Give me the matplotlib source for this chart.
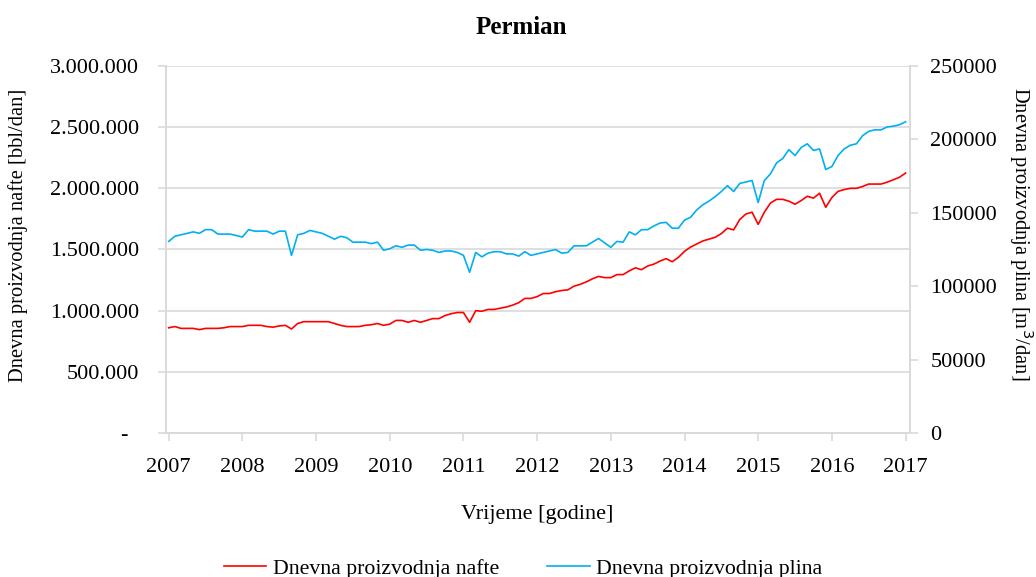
import numpy as np
import matplotlib.pyplot as plt
from matplotlib.ticker import FuncFormatter
from matplotlib.lines import Line2D

plt.rcParams['font.family'] = ['Liberation Serif', 'DejaVu Serif']

# mjesecni podaci, sijecanj 2007 - sijecanj 2017
nafta = [
    860, 870, 855, 855, 855, 845, 855, 855, 855, 860, 870, 870,
    870, 880, 880, 880, 870, 865, 875, 880, 850, 895, 910, 910,
    910, 910, 910, 895, 880, 870, 870, 870, 880, 885, 895, 880,
    890, 920, 920, 905, 920, 905, 920, 935, 935, 960, 975, 985,
    985, 905, 1000, 995, 1010, 1010, 1020, 1030, 1045, 1065, 1100, 1100,
    1115, 1140, 1140, 1155, 1165, 1170, 1200, 1215, 1235, 1260, 1280, 1270,
    1270, 1295, 1295, 1325, 1350, 1335, 1365, 1380, 1405, 1425, 1400, 1435,
    1485, 1520, 1545, 1570, 1585, 1600, 1630, 1675, 1660, 1745, 1790, 1805,
    1705, 1805, 1880, 1910, 1910, 1895, 1870, 1900, 1935, 1920, 1960, 1845,
    1925, 1975, 1990, 2000, 2000, 2015, 2035, 2035, 2035, 2050, 2070, 2090,
    2125,
]
plin = [
    130.5, 134, 135, 136, 137, 136, 138.5, 138.5, 135.5, 135.5, 135.5, 134.5,
    133.5, 138.5, 137.5, 137.5, 137.5, 135.5, 137.5, 137.5, 121, 135, 136, 138,
    137, 136, 134, 132, 134, 133, 130, 130, 130, 129, 130, 124.5,
    125.5, 127.5, 126.5, 128, 128, 124.5, 125, 124.5, 123, 124, 124, 123,
    121, 109.5, 123, 120, 122.5, 123.5, 123.5, 122, 122, 120.5, 123.5, 121,
    122, 123, 124, 125, 122.5, 123, 127.5, 127.5, 127.5, 130, 132.5, 129.5,
    126.5, 130.5, 130, 137, 135, 138.5, 138.5, 141, 143, 143.5, 139.5, 139.5,
    145, 147, 152, 155.5, 158, 161, 164.5, 168.5, 164.5, 170, 171, 172,
    157, 172, 176.5, 184, 187, 193, 189, 194.5, 197, 192.5, 193.5, 179.5,
    181.5, 189, 193.5, 196, 197, 202.5, 205.5, 206.5, 206.5, 208.5, 209, 210,
    212,
]
godine = list(range(2007, 2018))

nafta = np.array(nafta) * 1000
plin = np.array(plin) * 1000
t = 2007 + np.arange(len(nafta)) / 12

crvena = '#FF0000'
plava = '#00B0F0'
siva = '#D9D9D9'
fs = 16

fig = plt.figure(figsize=(10.36, 5.77), dpi=100)
ax = fig.add_axes([0.160, 0.2496, 0.718, 0.636])
ax2 = ax.twinx()

ax.plot(t, nafta, color=crvena, lw=1.2)
ax2.plot(t, plin, color=plava, lw=1.2)

ax.set_xlim(2007 - 0.04, 2017 + 0.055)
ax.set_ylim(0, 3000000)
ax2.set_ylim(0, 250000)
ax.set_xticks(godine)
ax.set_yticks(np.arange(0, 3000001, 500000))
ax2.set_yticks(np.arange(0, 250001, 50000))

def tocke(v, pos):
    if v == 0:
        return '-  '
    return '{:,.0f}'.format(v).replace(',', '.')

ax.yaxis.set_major_formatter(FuncFormatter(tocke))
ax2.yaxis.set_major_formatter(FuncFormatter(lambda v, p: '{:.0f}'.format(v)))

ax.grid(axis='y', color=siva, lw=1.2)
ax.set_axisbelow(True)
for a in (ax, ax2):
    for s in a.spines.values():
        s.set_color(siva)
        s.set_linewidth(1.2)
    a.spines['top'].set_visible(False)
    a.tick_params(colors=siva, labelcolor='black', labelsize=fs, width=1.2, length=6)
ax.tick_params(axis='y', pad=13)
ax.tick_params(axis='x', pad=12)
ax2.tick_params(axis='y', pad=9)

fig.suptitle('Permian', x=0.503, y=0.973, fontsize=18, fontweight='bold')
ax.set_xlabel('Vrijeme [godine]', fontsize=fs, labelpad=20)

# naslovi osi y postavljeni rucno
fig.text(18 / 1036, 1 - 235 / 577, 'Dnevna proizvodnja nafte [bbl/dan]',
         fontsize=14.8, rotation=90, ha='center', va='center')
fig.text(1021 / 1036, 1 - 234 / 577, 'Dnevna proizvodnja plina [m$^3$/dan]',
         fontsize=14.8, rotation=270, ha='center', va='center')

oznake = [Line2D([], [], color=crvena, lw=1.2), Line2D([], [], color=plava, lw=1.2)]
fig.legend(oznake, ['Dnevna proizvodnja nafte', 'Dnevna proizvodnja plina'],
           loc='lower center', bbox_to_anchor=(0.505, -0.037), ncol=2, frameon=False,
           fontsize=15.7, handlelength=1.95, columnspacing=2.2, handletextpad=0.3)

fig.savefig('out.png', dpi=100)
